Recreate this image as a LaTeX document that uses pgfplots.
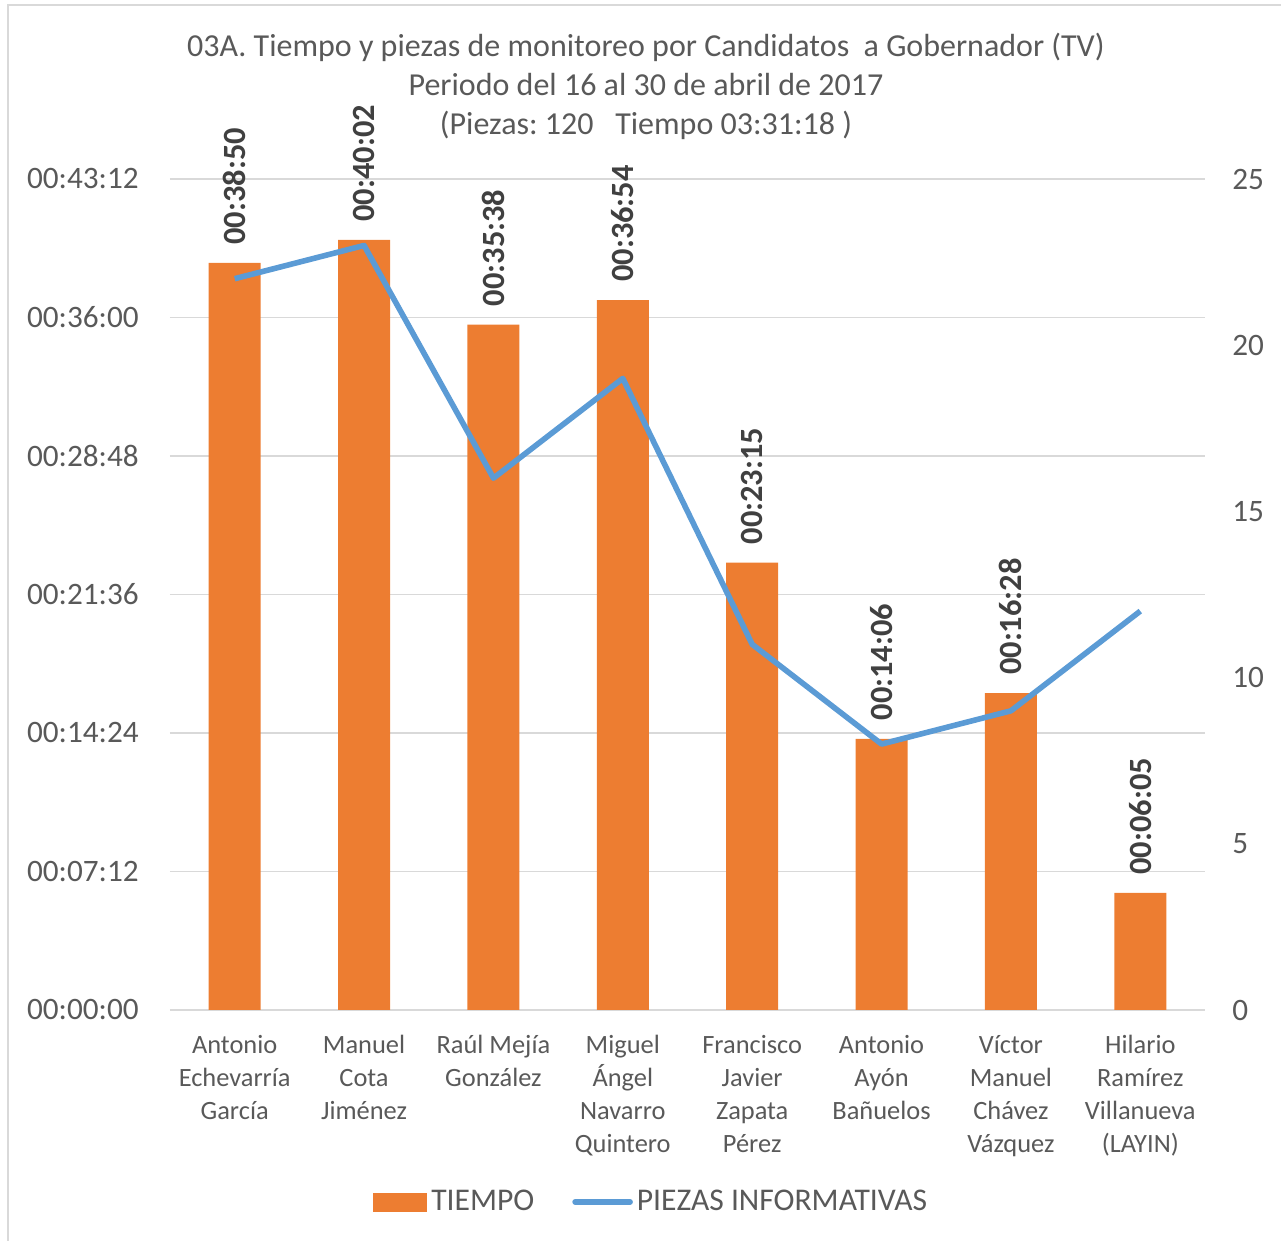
\documentclass[border=0pt]{standalone}
\usepackage{fontspec}
\setmainfont{Carlito}
\usepackage{pgfplots}
\usepackage{pgfplotstable}
\pgfplotsset{compat=1.18}
\definecolor{barorange}{HTML}{ED7D31}
\definecolor{lineblue}{HTML}{5B9BD5}
\definecolor{txtgray}{HTML}{595959}
\definecolor{lblgray}{HTML}{404040}
\definecolor{gridgray}{HTML}{D9D9D9}

% tiempo en segundos, etiqueta hh:mm:ss
\pgfplotstableread{
x secs lab
0 2330 00:38:50
1 2402 00:40:02
2 2138 00:35:38
3 2214 00:36:54
4 1395 00:23:15
5 846  00:14:06
6 988  00:16:28
7 365  00:06:05
}\tiempo

\pgfplotstableread{
x piezas
0 22
1 23
2 16
3 19
4 11
5 8
6 9
7 12
}\piezas

\newcommand{\tickfont}{\fontsize{15.6}{18}\selectfont}

\begin{document}
\frenchspacing
\begin{tikzpicture}
\path[use as bounding box] (0,0) rectangle (640.5pt,620.5pt);
\draw[gridgray, line width=0.9pt] (4pt,0) -- (4pt,618pt) -- (640.5pt,618pt);

\begin{scope}[every node/.style={anchor=base, text=txtgray, inner sep=0pt, font=\fontsize{16}{19}\selectfont}]
\node at (323pt,592pt) {03A. Tiempo y piezas de monitoreo por Candidatos~ a Gobernador (TV)};
\node at (323pt,572.5pt) {Periodo del 16 al 30 de abril de 2017};
\node at (323pt,553pt) {(Piezas: 120~~ Tiempo 03:31:18 )};
\end{scope}

\begin{axis}[
    at={(85pt,115.5pt)}, anchor=south west,
    scale only axis, width=517.5pt, height=415.5pt,
    xmin=-0.5, xmax=7.5, ymin=0, ymax=2592,
    clip=false,
    axis x line*=bottom, axis y line*=left,
    x axis line style={gridgray, line width=0.9pt, -},
    y axis line style={draw=none},
    major tick length=0pt,
    xtick={0,1,2,3,4,5,6,7},
    xticklabels={
        Antonio\\Echevarría\\García,
        Manuel\\Cota\\Jiménez,
        Raúl Mejía\\González,
        Miguel\\Ángel\\Navarro\\Quintero,
        Francisco\\Javier\\Zapata\\Pérez,
        Antonio\\Ayón\\Bañuelos,
        Víctor\\Manuel\\Chávez\\Vázquez,
        Hilario\\Ramírez\\Villanueva\\(LAYIN)},
    xticklabel style={align=center, anchor=north, inner sep=0pt, yshift=-12.5pt,
        text=txtgray, font=\fontsize{13.2}{16.5}\selectfont},
    ytick={0,432,864,1296,1728,2160,2592},
    yticklabels={00:00:00,00:07:12,00:14:24,00:21:36,00:28:48,00:36:00,00:43:12},
    yticklabel style={anchor=east, inner sep=0pt, xshift=-15.5pt,
        text=txtgray, font=\tickfont},
    ymajorgrids, grid style={gridgray, line width=0.9pt},
]
\addplot[ybar, bar width=26pt, fill=barorange, draw=none,
    nodes near coords, point meta=explicit symbolic,
    nodes near coords style={rotate=90, anchor=west, text=lblgray,
        font=\bfseries\fontsize{16.2}{19}\selectfont, inner xsep=9pt, inner ysep=0pt}]
    table[x=x, y=secs, meta=lab] {\tiempo};
\end{axis}

\begin{axis}[
    at={(85pt,115.5pt)}, anchor=south west,
    scale only axis, width=517.5pt, height=415.5pt,
    xmin=-0.5, xmax=7.5, ymin=0, ymax=25,
    axis x line=none, axis y line*=right,
    y axis line style={draw=none},
    major tick length=0pt,
    ytick={0,5,10,15,20,25},
    yticklabels={0,5,10,15,20,25},
    yticklabel style={anchor=west, inner sep=0pt, xshift=13.5pt,
        text=txtgray, font=\tickfont},
    legend columns=2,
    legend cell align=left,
    legend style={at={(axis description cs:0.466,-0.231)}, anchor=center,
        draw=none, fill=none, text=txtgray, font=\fontsize{15.8}{18}\selectfont,
        /tikz/every even column/.append style={column sep=17pt}},
]
\addlegendimage{legend image code/.code={\fill[barorange] (0pt,-4.5pt) rectangle (26.5pt,4.5pt);}}
\addlegendentry{TIEMPO}
\addplot[lineblue, line width=2.8pt, line join=round,
    legend image code/.code={\draw[lineblue, line width=2.8pt, line cap=round] (0pt,0pt) -- (27.5pt,0pt);}]
    table[x=x, y=piezas] {\piezas};
\addlegendentry{PIEZAS INFORMATIVAS}
\end{axis}
\end{tikzpicture}
\end{document}
